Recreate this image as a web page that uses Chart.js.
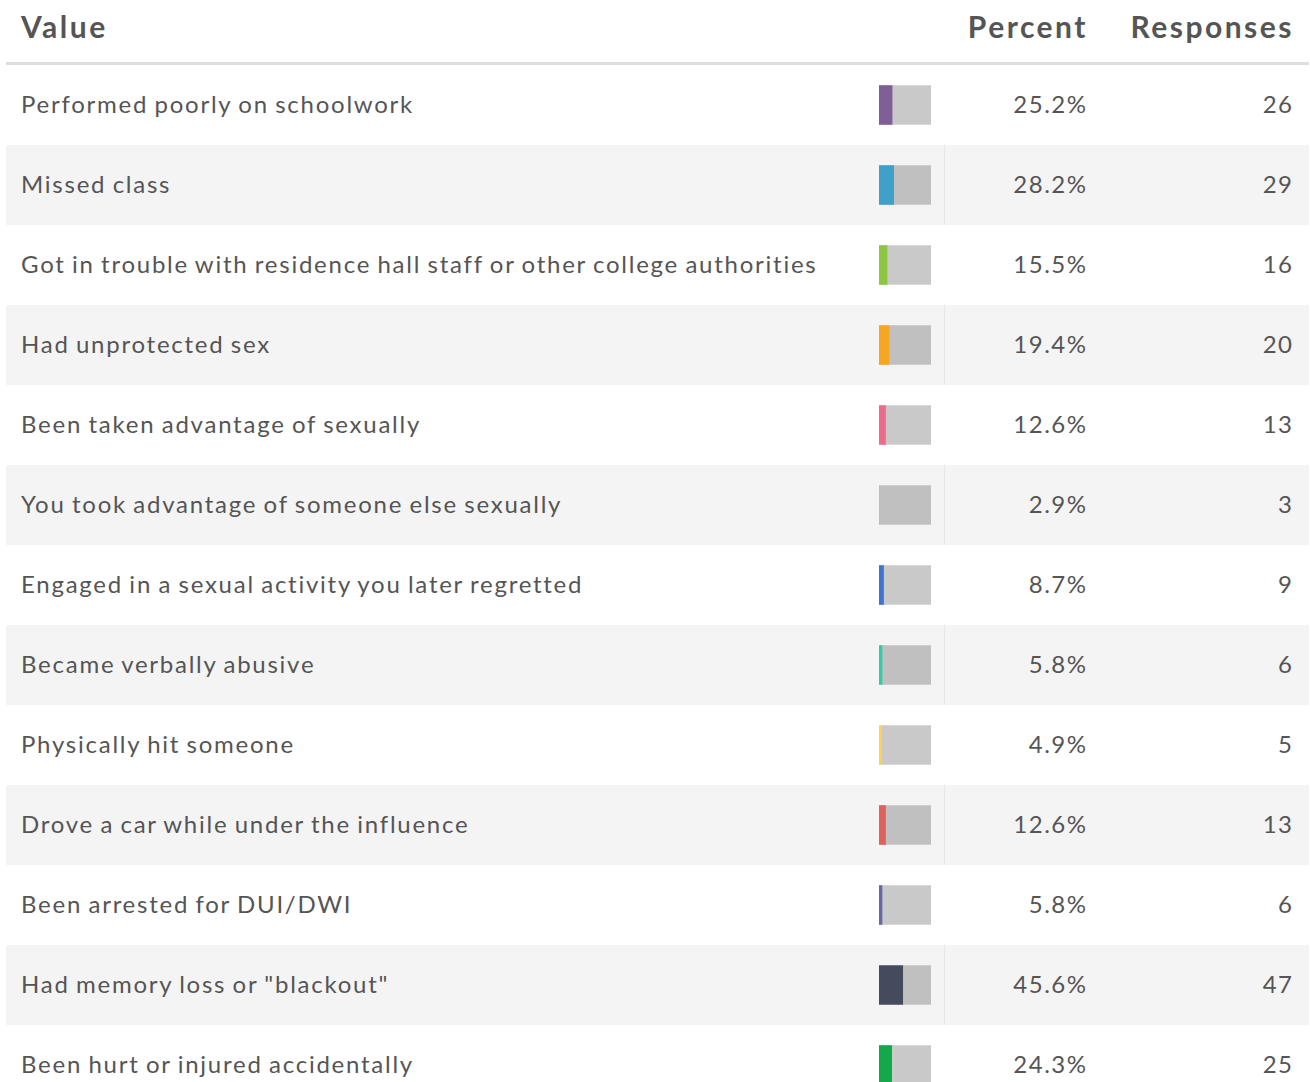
<!DOCTYPE html>
<html>
<head>
<meta charset="utf-8">
<script src="https://cdn.jsdelivr.net/npm/chart.js@4/dist/chart.umd.min.js"></script>
<style>
  html, body { margin: 0; padding: 0; background: #fff; overflow: hidden; }
  body { width: 1310px; height: 1082px; font-family: Lato, "Open Sans", sans-serif; color: #555; }
  #table { position: absolute; left: 6px; top: 0; width: 1303px; }
  .head { position: relative; height: 62px; border-bottom: 3px solid #dedede; font-weight: bold; font-size: 30px; letter-spacing: 2.5px; }
  .head span { position: absolute; top: 8px; }
  .row { position: relative; height: 80px; font-size: 24px; }
  .row.alt { background: #f4f4f4; }
  .row.alt .sep { position: absolute; left: 938px; top: 0; width: 1px; height: 80px; background: #e6e6e6; }
  .row span { position: absolute; top: 24px; }
  .lbl { left: 15px; letter-spacing: 1.75px; word-spacing: -1.5px; }
  .pct { right: 221.5px; letter-spacing: 1.5px; }
  .cnt { right: 15.5px; letter-spacing: 1.5px; }
  #barsWrap { position: absolute; left: 879px; top: 65px; width: 52px; height: 1040px; pointer-events: none; }
</style>
</head>
<body>
<div id="table">
  <div class="head">
    <span style="left:15px">Value</span>
    <span style="right:221px">Percent</span>
    <span style="right:15px">Responses</span>
  </div>
  <div id="rows"></div>
</div>
<div id="barsWrap"><canvas id="miniBars" width="52" height="1040"></canvas></div>
<script>
// dữ liệu bảng
const categories = [
    'Performed poorly on schoolwork',
    'Missed class',
    'Got in trouble with residence hall staff or other college authorities',
    'Had unprotected sex',
    'Been taken advantage of sexually',
    'You took advantage of someone else sexually',
    'Engaged in a sexual activity you later regretted',
    'Became verbally abusive',
    'Physically hit someone',
    'Drove a car while under the influence',
    'Been arrested for DUI/DWI',
    'Had memory loss or "blackout"',
    'Been hurt or injured accidentally'
];
const percents = [25.2, 28.2, 15.5, 19.4, 12.6, 2.9, 8.7, 5.8, 4.9, 12.6, 5.8, 45.6, 24.3];
const responses = [26, 29, 16, 20, 13, 3, 9, 6, 5, 13, 6, 47, 25];
const barColors = ['#7f5f97', '#3fa0c8', '#8dc63f', '#f5a623', '#ee6a8a', '#bdbdbd', '#3f73d1',
    '#2fcfa5', '#fdd24d', '#e0605a', '#6a67a8', '#454a5c', '#13a84a'];

// Tạo các dòng của bảng
const rowsEl = document.getElementById('rows');
categories.forEach((cat, i) => {
    const row = document.createElement('div');
    row.className = 'row' + (i % 2 === 1 ? ' alt' : '');
    row.innerHTML = '<div class="sep"></div>' +
        '<span class="lbl"></span><span class="pct"></span><span class="cnt"></span>';
    row.querySelector('.lbl').textContent = cat;
    row.querySelector('.pct').textContent = percents[i].toFixed(1) + '%';
    row.querySelector('.cnt').textContent = responses[i];
    rowsEl.appendChild(row);
});

// Biểu đồ thanh nhỏ
const ctxBars = document.getElementById('miniBars').getContext('2d');
new Chart(ctxBars, {
    type: 'bar',
    data: {
        labels: categories,
        datasets: [
            {
                data: percents,
                backgroundColor: barColors,
                barThickness: 39
            },
            {
                data: percents.map(p => 100 - p),
                backgroundColor: 'rgba(0,0,0,0.21)',
                barThickness: 39
            }
        ]
    },
    options: {
        indexAxis: 'y',
        responsive: false,
        animation: false,
        devicePixelRatio: 1,
        layout: { padding: 0 },
        plugins: {
            legend: { display: false },
            tooltip: { enabled: false }
        },
        scales: {
            x: { stacked: true, min: 0, max: 100, display: false },
            y: { stacked: true, display: false }
        }
    }
});
</script>
</body>
</html>
